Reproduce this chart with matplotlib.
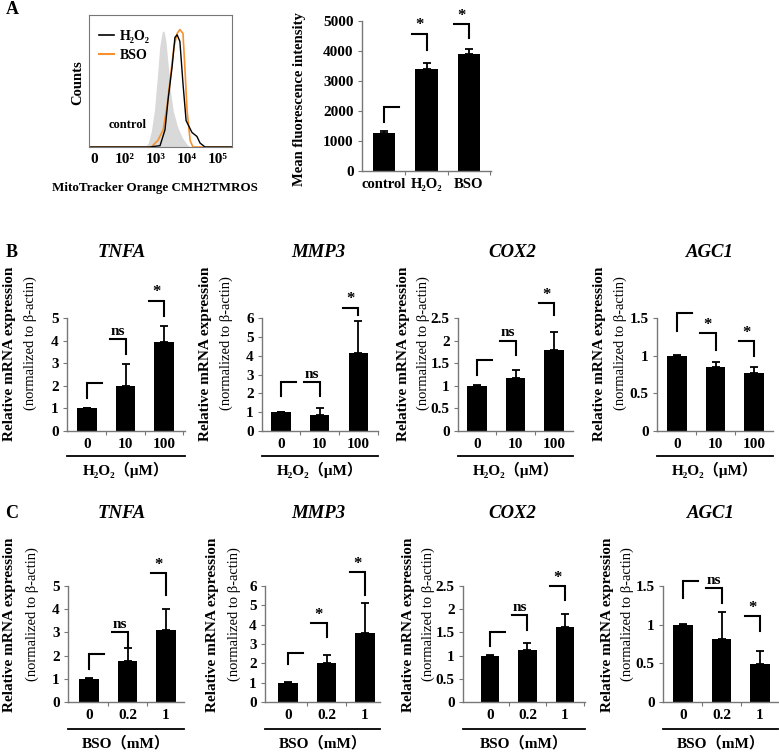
import matplotlib
matplotlib.use("Agg")
import matplotlib.pyplot as plt
from matplotlib.lines import Line2D
from matplotlib.ticker import FuncFormatter

plt.rcParams['font.family'] = ['Liberation Serif', 'DejaVu Serif', 'Noto Sans CJK JP']
plt.rcParams['font.weight'] = 'bold'

W, H = 779, 754

# =====================================
# DATA
# =====================================

# A - flow cytometry histogram (x in decades: 0, 10^2 .. 10^5 -> 0..4, y relative counts)
hist_ticks = ['0', '10²', '10³', '10⁴', '10⁵']
ctrl_x = [-0.16, 1.65, 1.75, 1.85, 1.95, 2.05, 2.12, 2.2, 2.26, 2.32, 2.4, 2.48, 2.56, 2.7, 2.85, 3.0, 3.1, 4.45]
ctrl_y = [0, 0, 0.03, 0.12, 0.28, 0.55, 0.76, 0.87, 0.88, 0.8, 0.6, 0.4, 0.27, 0.15, 0.07, 0.02, 0, 0]
h2o2_x = [-0.16, 1.8, 2.13, 2.29, 2.39, 2.52, 2.61, 2.68, 2.77, 2.87, 2.97, 3.16, 3.32, 3.42, 3.58, 4.45]
h2o2_y = [0, 0, 0.01, 0.13, 0.36, 0.61, 0.83, 0.85, 0.8, 0.48, 0.2, 0.11, 0.08, 0.03, 0, 0]
bso_x = [-0.16, 1.85, 2.06, 2.23, 2.35, 2.48, 2.58, 2.68, 2.77, 2.87, 2.94, 3.0, 3.1, 3.19, 4.45]
bso_y = [0, 0, 0.05, 0.13, 0.3, 0.56, 0.76, 0.86, 0.89, 0.86, 0.56, 0.28, 0.05, 0, 0]

# A - mean fluorescence intensity
mfi_groups = ['control', 'H₂O₂', 'BSO']
mfi_vals = [1275, 3415, 3910]
mfi_errs = [60, 200, 150]
mfi_brk_lo = [1640, 4050, 4435]
mfi_brk_hi = [2140, 4580, 4910]
mfi_sig = ['', '*', '*']

# B - H2O2 treatment
h2o2_doses = ['0', '10', '100']
tnfa_h2o2 = [1.0, 2.0, 3.93]
tnfa_h2o2_err = [0.02, 0.97, 0.7]
tnfa_h2o2_brk = [(1.47, 2.12), (3.41, 4.07), (5.1, 5.77)]
tnfa_h2o2_sig = ['', 'ns', '*']
mmp3_h2o2 = [1.0, 0.85, 4.12]
mmp3_h2o2_err = [0.02, 0.38, 1.74]
mmp3_h2o2_brk = [(1.84, 2.6), (1.84, 2.6), (6.15, 6.55)]
mmp3_h2o2_sig = ['', 'ns', '*']
cox2_h2o2 = [1.0, 1.17, 1.79]
cox2_h2o2_err = [0.01, 0.19, 0.39]
cox2_h2o2_brk = [(1.23, 1.57), (1.69, 2.0), (2.57, 2.83)]
cox2_h2o2_sig = ['', 'ns', '*']
agc1_h2o2 = [1.0, 0.855, 0.775]
agc1_h2o2_err = [0.005, 0.065, 0.075]
agc1_h2o2_brk = [(1.33, 1.57), (1.08, 1.30), (0.99, 1.19)]
agc1_h2o2_sig = ['', '*', '*']

# C - BSO treatment
bso_doses = ['0', '0.2', '1']
tnfa_bso = [1.0, 1.76, 3.1]
tnfa_bso_err = [0.02, 0.57, 0.89]
tnfa_bso_brk = [(1.44, 2.09), (2.38, 3.03), (4.6, 5.55)]
tnfa_bso_sig = ['', 'ns', '*']
mmp3_bso = [1.0, 2.02, 3.58]
mmp3_bso_err = [0.02, 0.4, 1.52]
mmp3_bso_brk = [(1.99, 2.51), (3.37, 4.1), (5.54, 6.7)]
mmp3_bso_sig = ['', '*', '*']
cox2_bso = [1.0, 1.12, 1.61]
cox2_bso_err = [0.01, 0.15, 0.28]
cox2_bso_brk = [(1.21, 1.51), (1.55, 1.87), (2.2, 2.5)]
cox2_bso_sig = ['', 'ns', '*']
agc1_bso = [1.0, 0.81, 0.485]
agc1_bso_err = [0.005, 0.35, 0.175]
agc1_bso_brk = [(1.35, 1.56), (1.28, 1.47), (0.92, 1.11)]
agc1_bso_sig = ['', 'ns', '*']

# =====================================
# HELPERS (pixel coordinates, y from top)
# =====================================

fig = plt.figure(figsize=(W / 100, H / 100), dpi=100)


def px_axes(x0, x1, ytop, ybot):
    return fig.add_axes([x0 / W, 1 - ybot / H, (x1 - x0) / W, (ybot - ytop) / H])


def ftext(x, y, s, **kw):
    kw.setdefault('ha', 'center')
    kw.setdefault('va', 'center')
    fig.text(x / W, 1 - y / H, s, **kw)


def fline(x0, x1, y, lw=1.3):
    fig.add_artist(Line2D([x0 / W, x1 / W], [1 - y / H, 1 - y / H],
                          color='black', lw=lw, transform=fig.transFigure))


GRAY = '#777777'


def style_axes(ax, xsize=11):
    for s in ['top', 'right']:
        ax.spines[s].set_visible(False)
    for s in ['left', 'bottom']:
        ax.spines[s].set_color(GRAY)
        ax.spines[s].set_linewidth(1)
    ax.tick_params(axis='y', direction='out', length=3, color=GRAY,
                   labelsize=11, pad=3)
    ax.tick_params(axis='x', which='major', direction='out', length=3,
                   color=GRAY, labelbottom=False)
    ax.tick_params(axis='x', which='minor', length=0, labelsize=xsize, pad=5)
    ax.yaxis.set_major_formatter(FuncFormatter(lambda v, _: f'{v:g}'))


def draw_bars(ax, vals, errs, cats, brk_lo, brk_hi, sig, arm, width=0.5):
    xs = range(len(vals))
    ax.bar(xs, vals, width=width, color='black', zorder=2)
    ax.errorbar(xs, vals, yerr=[[0] * len(errs), errs], fmt='none',
                ecolor='black', elinewidth=1.3, capsize=2.6, capthick=1.3, zorder=3)
    ax.set_xticks([0.5, 1.5, 2.5])
    ax.set_xticks(list(xs), minor=True)
    ax.set_xticklabels(cats, minor=True)
    for i, (lo, hi, s) in enumerate(zip(brk_lo, brk_hi, sig)):
        if i == 0:
            ax.plot([i, i, i + arm], [lo, hi, hi], color='black', lw=1.5,
                    clip_on=False, solid_joinstyle='miter')
        else:
            ax.plot([i - arm, i, i], [hi, hi, lo], color='black', lw=1.5,
                    clip_on=False, solid_joinstyle='miter')
        if s:
            ax.annotate(s, (i - arm / 2, hi), xytext=(0, 3), textcoords='offset points',
                        ha='center', va='baseline', fontsize=11 if s == 'ns' else 12,
                        annotation_clip=False)


# =====================================
# PANEL A
# =====================================

ftext(12, 10, 'A', fontsize=13)

ax_h = px_axes(89, 232, 15, 147)
ax_h.fill_between(ctrl_x, ctrl_y, color='#d9d9d9', lw=0)
ax_h.plot(bso_x, bso_y, color='#f7902e', lw=1.2)
ax_h.plot(h2o2_x, h2o2_y, color='black', lw=1.0)
ax_h.set_xlim(-0.16, 4.45)
ax_h.set_ylim(0, 1)
for s in ax_h.spines.values():
    s.set_color(GRAY)
    s.set_linewidth(0.8)
ax_h.set_yticks([])
ax_h.set_xticks(range(len(hist_ticks)))
ax_h.set_xticklabels(hist_ticks)
ax_h.tick_params(axis='x', length=0, labelsize=11, pad=4)
ax_h.text(0.27, 0.17, 'control', transform=ax_h.transAxes, ha='center',
          va='center', fontsize=9)
ax_h.legend(handles=[Line2D([], [], color='black', lw=1.2),
                     Line2D([], [], color='#f7902e', lw=1.5)],
            labels=['H₂O₂', 'BSO'], loc='upper left', frameon=False,
            bbox_to_anchor=(0.03, 0.93), fontsize=10, handlelength=1.1,
            handletextpad=0.4, borderaxespad=0, labelspacing=0.45)
ftext(78, 83, 'Counts', rotation=90, fontsize=10.5)
ftext(155, 188, 'MitoTracker Orange CMH2TMROS', fontsize=9.4)

ax_m = px_axes(362, 491, 21, 171)
style_axes(ax_m, xsize=10.5)
draw_bars(ax_m, mfi_vals, mfi_errs, mfi_groups, mfi_brk_lo, mfi_brk_hi,
          mfi_sig, arm=0.35, width=0.52)
ax_m.set_xlim(-0.52, 2.52)
ax_m.set_ylim(0, 5000)
ax_m.set_yticks(range(0, 5001, 1000))
ftext(300, 99, 'Mean fluorescence intensity', rotation=90, fontsize=10.5)

# =====================================
# PANELS B / C
# =====================================

ftext(12, 252, 'B', fontsize=13)
ftext(12, 513, 'C', fontsize=13)

genes = ['TNFA', 'MMP3', 'COX2', 'AGC1']
ymaxes = [5, 6, 2.5, 1.5]
ysteps = [1, 1, 0.5, 0.5]

rows = [
    dict(vals=[tnfa_h2o2, mmp3_h2o2, cox2_h2o2, agc1_h2o2],
         errs=[tnfa_h2o2_err, mmp3_h2o2_err, cox2_h2o2_err, agc1_h2o2_err],
         brks=[tnfa_h2o2_brk, mmp3_h2o2_brk, cox2_h2o2_brk, agc1_h2o2_brk],
         sigs=[tnfa_h2o2_sig, mmp3_h2o2_sig, cox2_h2o2_sig, agc1_h2o2_sig],
         cats=h2o2_doses, xlabel='H₂O₂（μM）',
         geo=[(67, 87, 38.5, 185), (262, 281, 38.7, 378),
              (458, 477, 38.5, 573), (657, 677, 38.5, 773)],
         ylab_x=[(10, 30), (205, 226), (403, 423), (599, 620)],
         title_x=[122, 318, 512, 710], title_y=252,
         ytop=318, ybot=431, under_y=456, xlab_y=470, ylab_y=(354, 343)),
    dict(vals=[tnfa_bso, mmp3_bso, cox2_bso, agc1_bso],
         errs=[tnfa_bso_err, mmp3_bso_err, cox2_bso_err, agc1_bso_err],
         brks=[tnfa_bso_brk, mmp3_bso_brk, cox2_bso_brk, agc1_bso_brk],
         sigs=[tnfa_bso_sig, mmp3_bso_sig, cox2_bso_sig, agc1_bso_sig],
         cats=bso_doses, xlabel='BSO（mM）',
         geo=[(68, 89, 38.5, 184), (265, 288, 38.5, 380),
              (463, 490, 37.5, 585), (663, 683, 38.5, 778)],
         ylab_x=[(10, 32), (212, 234), (408, 428), (607, 627)],
         title_x=[122, 318, 512, 711], title_y=513,
         ytop=586, ybot=702, under_y=729, xlab_y=743, ylab_y=(625, 614)),
]

for row in rows:
    for k, gene in enumerate(genes):
        spine, c0, sp, end = row['geo'][k]
        ax = px_axes(spine, end, row['ytop'], row['ybot'])
        style_axes(ax)
        lo = [b[0] for b in row['brks'][k]]
        hi = [b[1] for b in row['brks'][k]]
        draw_bars(ax, row['vals'][k], row['errs'][k], row['cats'], lo, hi,
                  row['sigs'][k], arm=0.4)
        ax.set_xlim((spine - c0) / sp, (end - c0) / sp)
        ax.set_ylim(0, ymaxes[k])
        n = int(round(ymaxes[k] / ysteps[k]))
        ax.set_yticks([i * ysteps[k] for i in range(n + 1)])

        ftext(row['title_x'][k], row['title_y'], gene, fontsize=13.5,
              style='italic')
        x1, x2 = row['ylab_x'][k]
        ftext(x1, row['ylab_y'][0], 'Relative mRNA expression', rotation=90,
              fontsize=11)
        ftext(x2, row['ylab_y'][1], '(normalized to β-actin)', rotation=90,
              fontsize=10.5, fontweight='normal')
        fline(spine, end, row['under_y'])
        ftext((spine + end) / 2, row['xlab_y'], row['xlabel'], fontsize=11)

plt.savefig('out.png', dpi=100)
